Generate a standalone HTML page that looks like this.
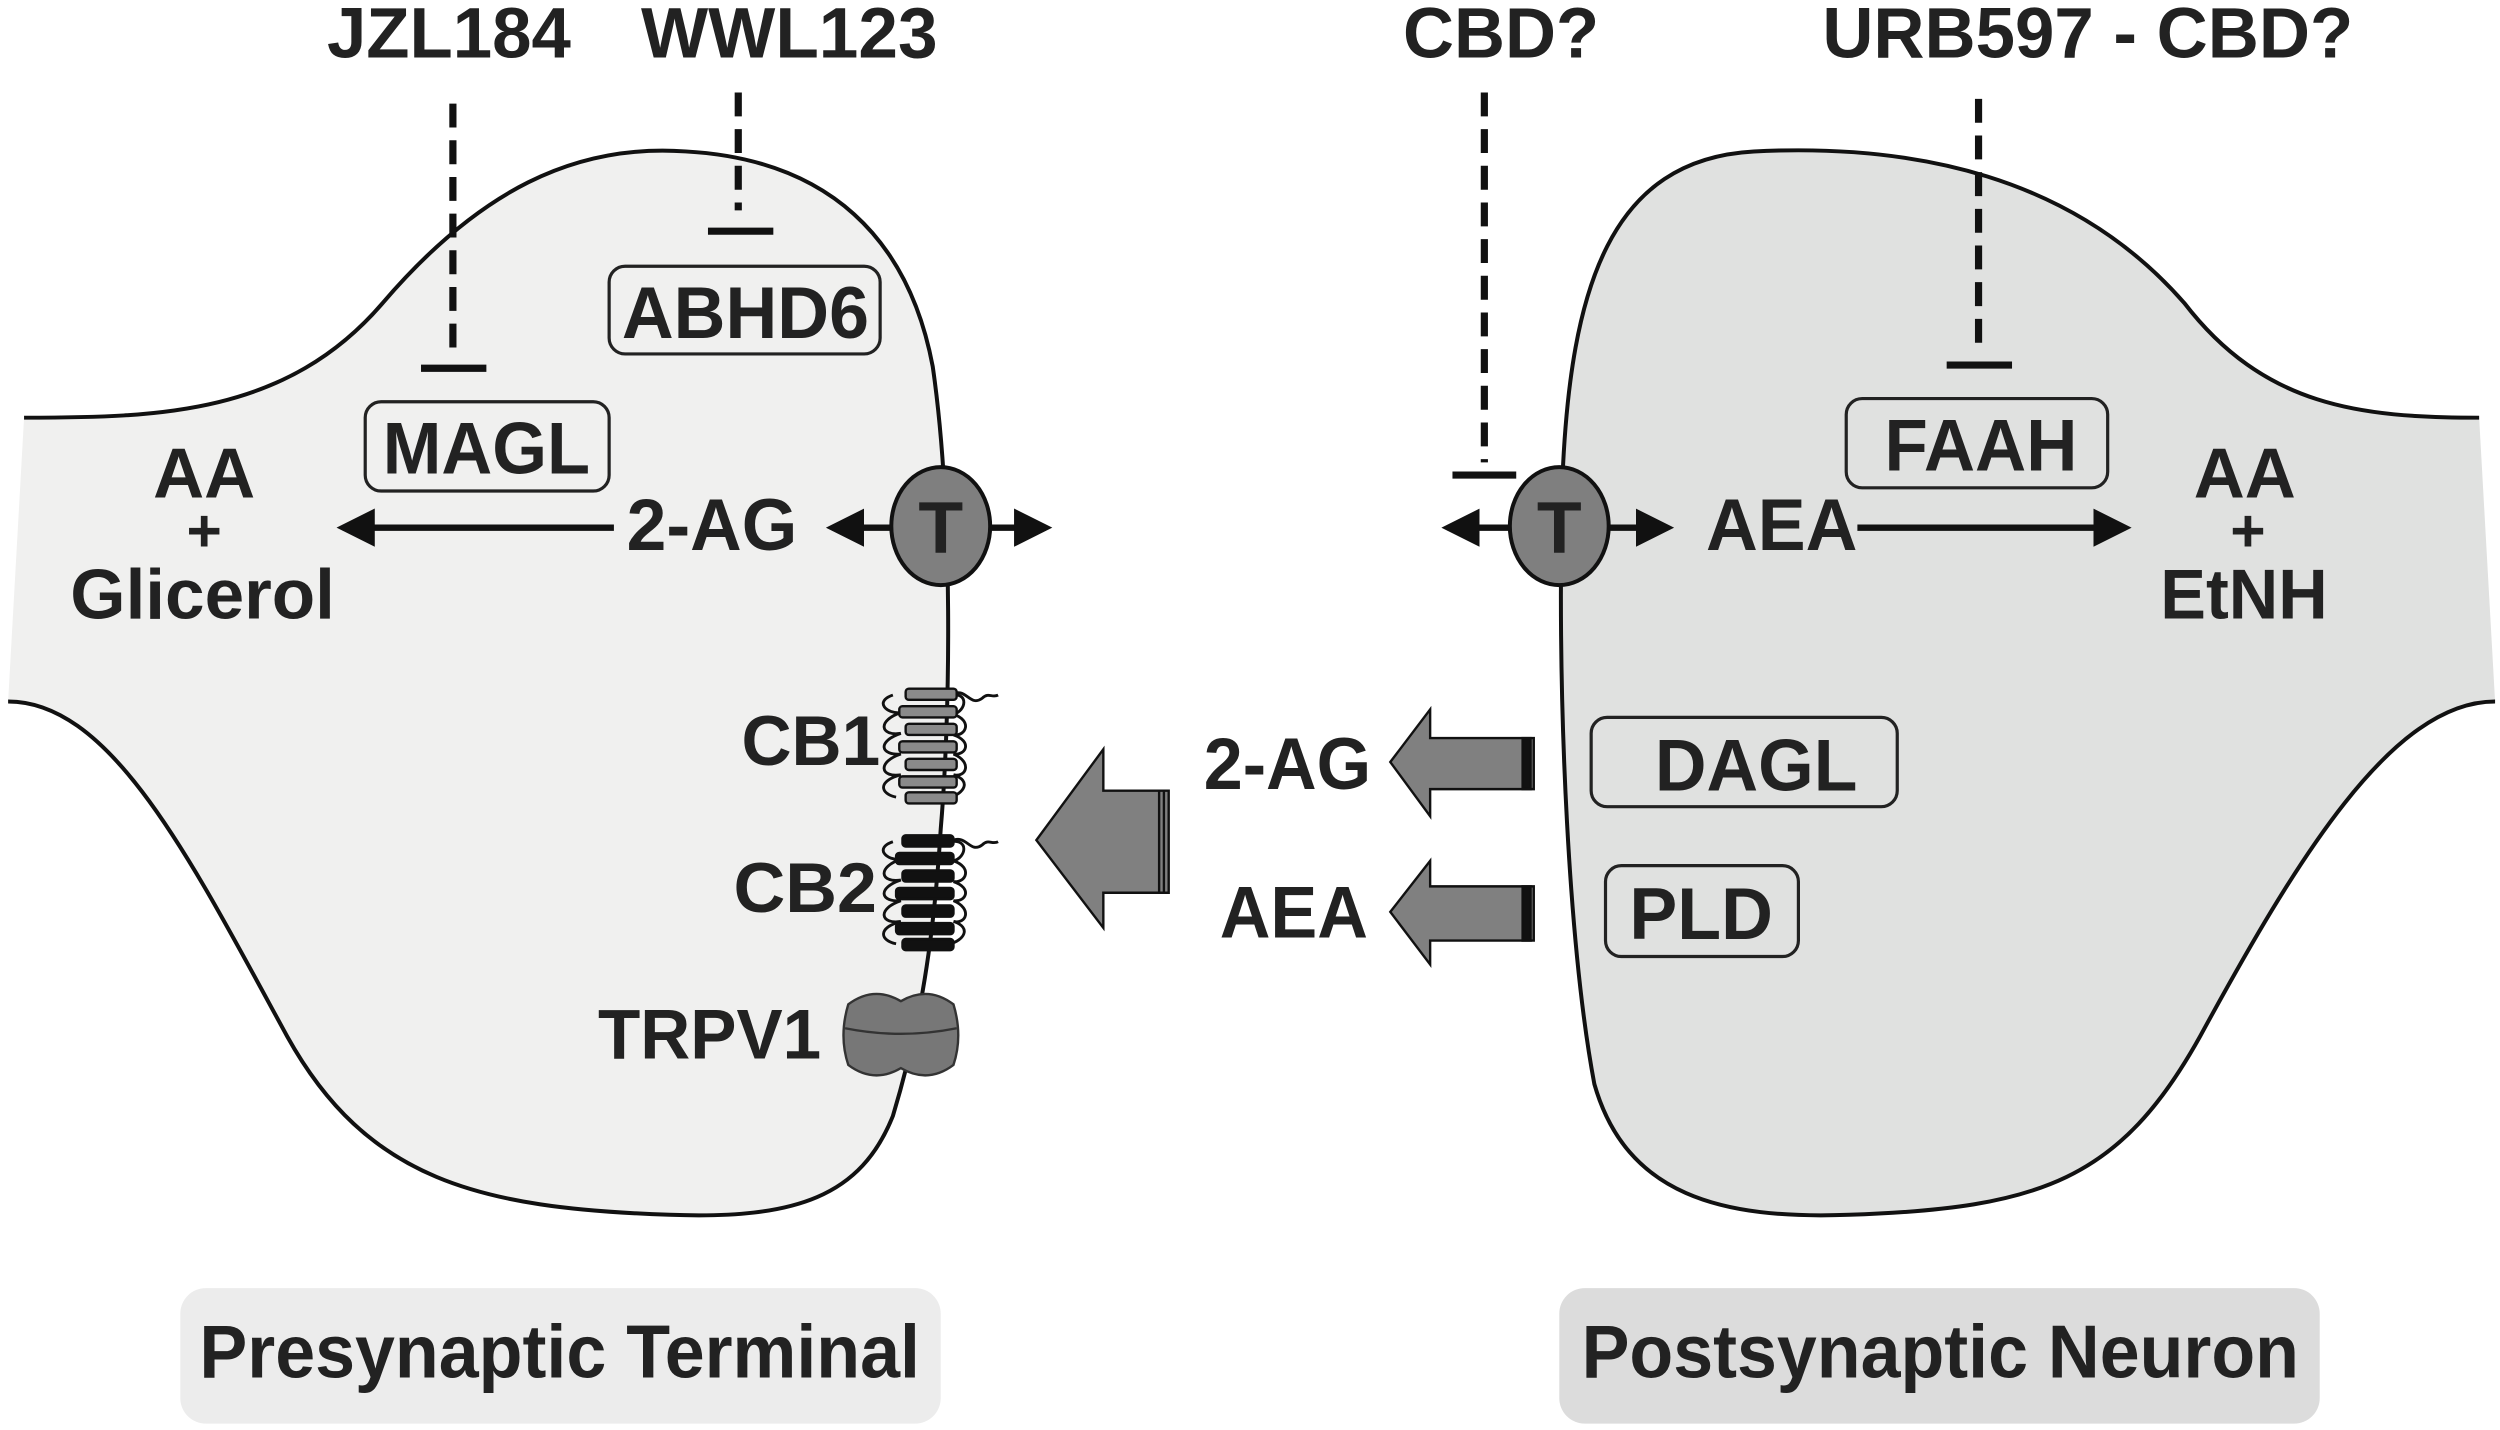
<!DOCTYPE html>
<html><head><meta charset="utf-8"><style>
html,body{margin:0;padding:0;background:#fff;}
svg{display:block}
text{font-family:"Liberation Sans",sans-serif;font-weight:bold;fill:#222;text-anchor:start}
.c{text-anchor:middle}
</style></head><body>
<svg width="2500" height="1430" viewBox="0 0 1568 897" xmlns="http://www.w3.org/2000/svg">
<defs>
<marker id="ah" markerWidth="6" markerHeight="6" refX="5" refY="3" orient="auto" markerUnits="strokeWidth">
<path d="M0,0 L6,3 L0,6 Z" fill="#111"/></marker>
</defs>
<path d="M15,262 C100,262 180,260 240,190 C300,120 360,90 430,95 C520,100 570,150 585,230 C598,320 596,450 590,520 C585,600 575,650 560,700 C540,750 500,765 420,762 C300,758 230,740 180,650 C120,540 70,440 5,440 Z" fill="#f0f0ef"/>
<path d="M15,262 C100,262 180,260 240,190 C300,120 360,90 430,95 C520,100 570,150 585,230 C598,320 596,450 590,520 C585,600 575,650 560,700 C540,750 500,765 420,762 C300,758 230,740 180,650 C120,540 70,440 5,440" fill="none" stroke="#111" stroke-width="2.5"/>
<path d="M1555,262 C1480,262 1420,255 1370,190 C1300,110 1200,90 1100,95 C1010,100 985,180 980,300 C976,450 985,600 1000,680 C1020,750 1080,765 1160,762 C1280,758 1330,740 1380,650 C1440,540 1500,440 1565,440 Z" fill="#e0e1e0"/>
<path d="M1555,262 C1480,262 1420,255 1370,190 C1300,110 1200,90 1100,95 C1010,100 985,180 980,300 C976,450 985,600 1000,680 C1020,750 1080,765 1160,762 C1280,758 1330,740 1380,650 C1440,540 1500,440 1565,440" fill="none" stroke="#111" stroke-width="2.5"/>
<rect x="113" y="808" width="477" height="85" rx="16" fill="#ececec"/>
<rect x="978" y="808" width="477" height="85" rx="16" fill="#dcdcdc"/>
<text x="125" y="864" font-size="47" textLength="452" lengthAdjust="spacingAndGlyphs">Presynaptic Terminal</text>
<text x="992" y="864" font-size="47" textLength="450" lengthAdjust="spacingAndGlyphs">Postsynaptic Neuron</text>
<text x="205" y="36" font-size="45" textLength="153" lengthAdjust="spacingAndGlyphs">JZL184</text>
<text x="402" y="36" font-size="45" textLength="186" lengthAdjust="spacingAndGlyphs">WWL123</text>
<text x="880" y="36" font-size="45" textLength="123" lengthAdjust="spacingAndGlyphs">CBD?</text>
<text x="1143" y="36" font-size="45" textLength="333" lengthAdjust="spacingAndGlyphs">URB597 - CBD?</text>
<g stroke="#111" stroke-width="4.5" fill="none">
<line x1="284" y1="65" x2="284" y2="222" stroke-dasharray="15 8"/>
<line x1="264" y1="231" x2="305" y2="231"/>
<line x1="463" y1="58" x2="463" y2="132" stroke-dasharray="15 8"/>
<line x1="444" y1="145" x2="485" y2="145"/>
<line x1="931" y1="58" x2="931" y2="290" stroke-dasharray="15 8"/>
<line x1="911" y1="298" x2="951" y2="298"/>
<line x1="1241" y1="62" x2="1241" y2="220" stroke-dasharray="15 8"/>
<line x1="1221" y1="229" x2="1262" y2="229"/>
</g>
<g fill="none" stroke="#222" stroke-width="2">
<rect x="382" y="167" width="170" height="55" rx="10"/>
<rect x="229" y="252" width="153" height="56" rx="10"/>
<rect x="1158" y="250" width="164" height="56" rx="10"/>
<rect x="998" y="450" width="192" height="56" rx="10"/>
<rect x="1007" y="543" width="121" height="57" rx="10"/>
</g>
<text x="390" y="212" font-size="46" textLength="155" lengthAdjust="spacingAndGlyphs">ABHD6</text>
<text x="240" y="297" font-size="46" textLength="130" lengthAdjust="spacingAndGlyphs">MAGL</text>
<text x="1182" y="295" font-size="46" textLength="121" lengthAdjust="spacingAndGlyphs">FAAH</text>
<text x="1038" y="496" font-size="46" textLength="127" lengthAdjust="spacingAndGlyphs">DAGL</text>
<text x="1022" y="589" font-size="46" textLength="90" lengthAdjust="spacingAndGlyphs">PLD</text>
<g stroke="#111" stroke-width="4" fill="none">
<line x1="385" y1="331" x2="215" y2="331" marker-end="url(#ah)"/>
<line x1="560" y1="331" x2="522" y2="331" marker-end="url(#ah)"/>
<line x1="620" y1="331" x2="656" y2="331" marker-end="url(#ah)"/>
<line x1="948" y1="331" x2="908" y2="331" marker-end="url(#ah)"/>
<line x1="1008" y1="331" x2="1046" y2="331" marker-end="url(#ah)"/>
<line x1="1165" y1="331" x2="1333" y2="331" marker-end="url(#ah)"/>
</g>
<ellipse cx="590" cy="330" rx="31" ry="37" fill="#7f7f7f" stroke="#111" stroke-width="2.5"/>
<ellipse cx="978" cy="330" rx="31" ry="37" fill="#7f7f7f" stroke="#111" stroke-width="2.5"/>
<text class="c" x="590" y="347" font-size="46">T</text>
<text class="c" x="978" y="347" font-size="46">T</text>
<text x="393" y="345" font-size="46" textLength="107" lengthAdjust="spacingAndGlyphs">2-AG</text>
<text x="96" y="312" font-size="44" textLength="64" lengthAdjust="spacingAndGlyphs">AA</text>
<text class="c" x="128" y="346" font-size="38">+</text>
<text x="44" y="388" font-size="44" textLength="166" lengthAdjust="spacingAndGlyphs">Glicerol</text>
<text x="1070" y="345" font-size="46" textLength="95" lengthAdjust="spacingAndGlyphs">AEA</text>
<text x="1376" y="312" font-size="44" textLength="64" lengthAdjust="spacingAndGlyphs">AA</text>
<text class="c" x="1410" y="346" font-size="38">+</text>
<text x="1355" y="388" font-size="44" textLength="105" lengthAdjust="spacingAndGlyphs">EtNH</text>
<text x="465" y="480" font-size="44" textLength="87" lengthAdjust="spacingAndGlyphs">CB1</text>
<text x="460" y="572" font-size="44" textLength="90" lengthAdjust="spacingAndGlyphs">CB2</text>
<text x="375" y="664" font-size="44" textLength="140" lengthAdjust="spacingAndGlyphs">TRPV1</text>
<g stroke="#111" stroke-width="1.8" fill="none">
<path d="M560,436 C548,440 556,448 565,447 C550,452 552,462 565,460 C550,465 552,474 565,473 C550,478 552,488 565,486 C550,490 552,498 562,500"/>
<path d="M596,436 C608,434 606,446 598,448 C610,452 606,462 598,461 C610,465 606,474 598,473 C610,478 606,488 598,486 C610,490 604,498 596,500"/>
<path d="M596,436 C606,430 608,444 616,438 C620,434 622,438 626,436"/>
<path d="M560,528 C548,532 556,540 565,539 C550,544 552,554 565,552 C550,557 552,566 565,565 C550,570 552,580 565,578 C550,582 552,590 562,592"/>
<path d="M596,528 C608,526 606,538 598,540 C610,544 606,554 598,553 C610,557 606,566 598,565 C610,570 606,580 598,578 C610,582 604,590 596,592"/>
<path d="M596,528 C606,522 608,536 616,530 C620,526 622,530 626,528"/>
</g>
<g stroke="#111" stroke-width="1.5" fill="#8a8a8a">
<rect x="568" y="432" width="32" height="7" rx="2"/><rect x="564" y="443" width="36" height="7" rx="2"/><rect x="568" y="454" width="32" height="7" rx="2"/><rect x="564" y="465" width="36" height="7" rx="2"/><rect x="568" y="476" width="32" height="7" rx="2"/><rect x="564" y="487" width="36" height="7" rx="2"/><rect x="568" y="497" width="32" height="7" rx="2"/>
</g>
<g stroke="#111" stroke-width="1.5" fill="#111">
<rect x="566" y="524" width="32" height="7" rx="2"/><rect x="562" y="535" width="36" height="7" rx="2"/><rect x="566" y="546" width="32" height="7" rx="2"/><rect x="562" y="557" width="36" height="7" rx="2"/><rect x="566" y="568" width="32" height="7" rx="2"/><rect x="562" y="579" width="36" height="7" rx="2"/><rect x="566" y="589" width="32" height="7" rx="2"/>
</g>
<g stroke="#333" stroke-width="1.5">
<path d="M532,630 Q548,618 565,628 Q582,618 598,630 Q604,650 598,668 Q582,680 565,670 Q548,680 532,668 Q526,650 532,630 Z" fill="#777"/>
<path d="M530,645 Q565,652 600,645" fill="none"/>
</g>
<g fill="#808080" stroke="#111" stroke-width="1.5">
<path d="M650,527 L692,470 L692,496 L733,496 L733,560 L692,560 L692,582 Z"/>
<path d="M872,478 L897,445 L897,463 L962,463 L962,495 L897,495 L897,512 Z"/>
<path d="M872,572 L897,540 L897,556 L962,556 L962,590 L897,590 L897,605 Z"/>
</g>
<g stroke="#111" stroke-width="1.5"><line x1="727" y1="496" x2="727" y2="560"/><line x1="730" y1="496" x2="730" y2="560"/>
<rect x="955" y="463" width="5" height="32" fill="#111"/><rect x="955" y="556" width="5" height="34" fill="#111"/></g>
<text x="755" y="495" font-size="46" textLength="105" lengthAdjust="spacingAndGlyphs">2-AG</text>
<text x="765" y="588" font-size="46" textLength="93" lengthAdjust="spacingAndGlyphs">AEA</text>
</svg>
</body></html>
